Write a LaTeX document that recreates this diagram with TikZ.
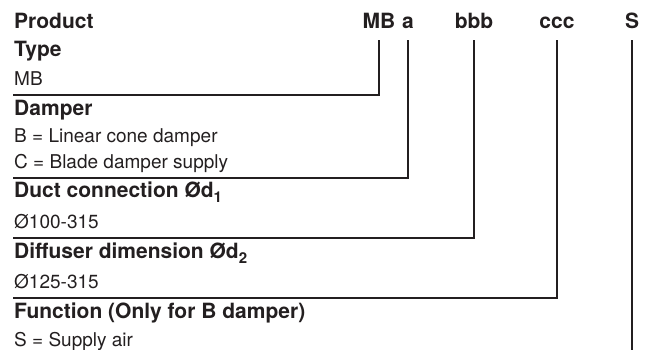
\documentclass[tikz,border=0pt]{standalone}
\usepackage{fontspec}
\setmainfont{TeX Gyre Heros}
\usetikzlibrary{positioning}

\definecolor{ink}{RGB}{35,31,32}
\newcommand{\lowsub}[1]{\raisebox{-5pt}{\fontsize{15}{15}\selectfont #1}}

\tikzset{
  head/.style={anchor=base west, inner sep=0pt, text=ink, font=\bfseries\fontsize{21}{25}\selectfont},
  body/.style={anchor=base west, inner sep=0pt, text=ink, font=\fontsize{19}{23}\selectfont},
  code/.style={anchor=base, inner xsep=0pt, inner ysep=11pt, text depth=0pt, text=ink, font=\bfseries\fontsize{21}{25}\selectfont},
  rule/.style={line width=1.2pt, draw=ink},
}

\begin{document}
\begin{tikzpicture}[x=1pt,y=-1pt]
\useasboundingbox (0,0) rectangle (652,350);
% product code
\node[head] (product) at (14,29) {Product};
\node[code] (mb) at (379,29) {MB};
\node[code] (a) at (408,29) {a};
\node[code] (bbb) at (474,29) {bbb};
\node[code] (ccc) at (557,29) {ccc};
\node[code] (s) at (632,29) {S};
% type
\node[head] (type) at (14,57) {Type};
\node[body] (typemb) at (14,85) {MB};
\coordinate (r1) at (13,95);
\draw[rule] (r1) -| (mb);
% damper
\node[head] (damper) at (14,115) {Damper};
\node[body] (damperb) at (14,142) {B = Linear cone damper};
\node[body] (damperc) at (14,168) {C = Blade damper supply};
\coordinate (r2) at (13,178);
\draw[rule] (r2) -| (a);
% duct connection
\node[head] (duct) at (14,197) {Duct connection Ød\lowsub{1}};
\node[body] (ductd) at (14,228) {Ø100-315};
\coordinate (r3) at (13,238);
\draw[rule] (r3) -| (bbb);
% diffuser dimension
\node[head] (diffuser) at (14,258) {Diffuser dimension Ød\lowsub{2}};
\node[body] (diffuserd) at (14,288) {Ø125-315};
\coordinate (r4) at (13,298);
\draw[rule] (r4) -| (ccc);
% function
\node[head] (function) at (14,318) {Function (Only for B damper)};
\node[body] (functions) at (14,346) {S = Supply air};
\coordinate (bottom) at (0,350);
\draw[rule] (s) -- (s |- bottom);
\end{tikzpicture}
\end{document}
